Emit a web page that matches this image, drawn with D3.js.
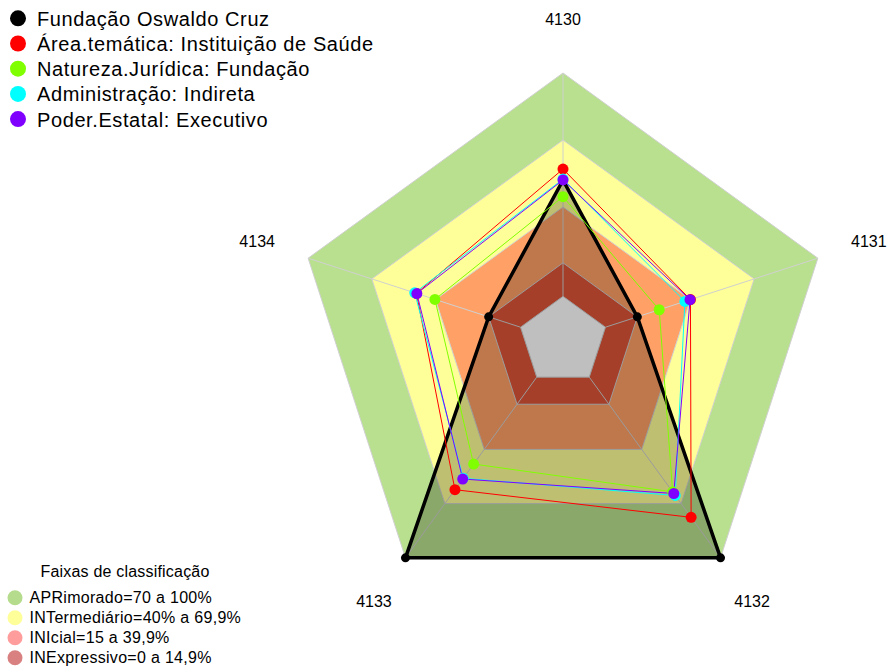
<!DOCTYPE html>
<html>
<head>
<meta charset="utf-8">
<script src="https://cdn.jsdelivr.net/npm/d3@7"></script>
<style>
  html, body { margin: 0; padding: 0; background: #ffffff; }
  svg { display: block; font-family: "Liberation Sans", Arial, sans-serif; }
</style>
</head>
<body>
<svg id="chart" width="889" height="668"></svg>
<script>
// ---- Data ----
const axesLabels = ["4130", "4131", "4132", "4133", "4134"];
const seriesNames = [
  "Fundação Oswaldo Cruz",
  "Área.temática: Instituição de Saúde",
  "Natureza.Jurídica: Fundação",
  "Administração: Indireta",
  "Poder.Estatal: Executivo"
];
const seriesColors = ["#000000", "#ff0000", "#80ff00", "#00ffff", "#8000ff"];
const fiocruz   = [52, 15, 100, 100, 15];
const areaTem   = [57, 40, 77.6, 62.3, 49];
const natureza  = [44.6, 25.3, 63.5, 48.1, 40.3];
const adminInd  = [52.5, 37.4, 65.5, 56, 49.8];
const poderExec = [52.1, 39.8, 64.4, 56.4, 48.8];
const seriesValues = [fiocruz, areaTem, natureza, adminInd, poderExec];

const bandLimits = [100, 70, 40, 15, 0];
const bandColors = ["#b8e08e", "#ffff99", "#ffa066", "#dd5538", "#ffffff"];
const bandNames = [
  "APRimorado=70 a 100%",
  "INTermediário=40% a 69,9%",
  "INIcial=15 a 39,9%",
  "INExpressivo=0 a 14,9%"
];
const bandLegendColors = ["#b5dc8c", "#ffff99", "#ff9c9c", "#d98080"];
const bandLegendTitle = "Faixas de classificação";

// ---- Layout ----
const svg = d3.select("#chart");
const cx = 563, cy = 341, R = 268;
const r = d3.scaleLinear().domain([-20, 100]).range([0, R]);
const angle = d3.scalePoint().domain(axesLabels).range([0, 288]); // degrees clockwise from top
const toXY = (label, v) => {
  const a = (angle(label) - 90) * Math.PI / 180;
  return [cx + r(v) * Math.cos(a), cy + r(v) * Math.sin(a)];
};
const polyPts = vals => axesLabels.map((l, i) => toXY(l, vals[i]));
const line = d3.line().curve(d3.curveLinearClosed);

const g = svg.append("g");

// bands
bandLimits.forEach((lim, i) => {
  g.append("path")
    .attr("d", line(axesLabels.map(l => toXY(l, lim))))
    .attr("fill", bandColors[i])
    .attr("stroke", "none");
});
// grid pentagons
bandLimits.forEach(lim => {
  g.append("path")
    .attr("d", line(axesLabels.map(l => toXY(l, lim))))
    .attr("fill", "none")
    .attr("stroke", "#d0d0d0")
    .attr("stroke-width", 1);
});
// axes spokes
axesLabels.forEach(l => {
  const [x0, y0] = toXY(l, 0);
  const [x1, y1] = toXY(l, 100);
  g.append("line").attr("x1", x0).attr("y1", y0).attr("x2", x1).attr("y2", y1)
    .attr("stroke", "#d0d0d0").attr("stroke-width", 1);
});

// series
seriesValues.forEach((vals, si) => {
  const pts = polyPts(vals);
  g.append("path")
    .attr("d", line(pts))
    .attr("fill", si === 0 ? "rgba(0,0,0,0.25)" : "none")
    .attr("stroke", seriesColors[si])
    .attr("stroke-width", si === 0 ? 3.5 : 1)
    .attr("stroke-linejoin", "miter");
});
seriesValues.forEach((vals, si) => {
  g.selectAll(null).data(polyPts(vals)).enter().append("circle")
    .attr("cx", d => d[0]).attr("cy", d => d[1])
    .attr("r", si === 0 ? 4.5 : 5.5)
    .attr("fill", seriesColors[si]);
});

// axis labels
axesLabels.forEach(l => {
  const [x, y] = toXY(l, -20 + 1.2 * 120);
  svg.append("text").attr("x", x).attr("y", y)
    .attr("text-anchor", "middle").attr("dominant-baseline", "central")
    .attr("font-size", 16).attr("fill", "#000").text(l);
});

// top-left legend
const leg = svg.append("g");
seriesNames.forEach((n, i) => {
  const y = 18.3 + i * 25.2;
  leg.append("circle").attr("cx", 18).attr("cy", y).attr("r", 8).attr("fill", seriesColors[i]);
  leg.append("text").attr("x", 37).attr("y", y + 7.5).attr("font-size", 20)
    .attr("letter-spacing", 0.6).attr("fill", "#000").text(n);
});

// bottom-left legend
const bl = svg.append("g");
bl.append("text").attr("x", 125).attr("y", 577).attr("text-anchor", "middle")
  .attr("font-size", 16).attr("letter-spacing", 0.2).attr("fill", "#000").text(bandLegendTitle);
bandNames.forEach((n, i) => {
  const y = 597.7 + i * 20;
  bl.append("circle").attr("cx", 15).attr("cy", y).attr("r", 7.5).attr("fill", bandLegendColors[i]);
  bl.append("text").attr("x", 29.5).attr("y", y + 5.7).attr("font-size", 16)
    .attr("letter-spacing", 0.3).attr("fill", "#000").text(n);
});
</script>
</body>
</html>
